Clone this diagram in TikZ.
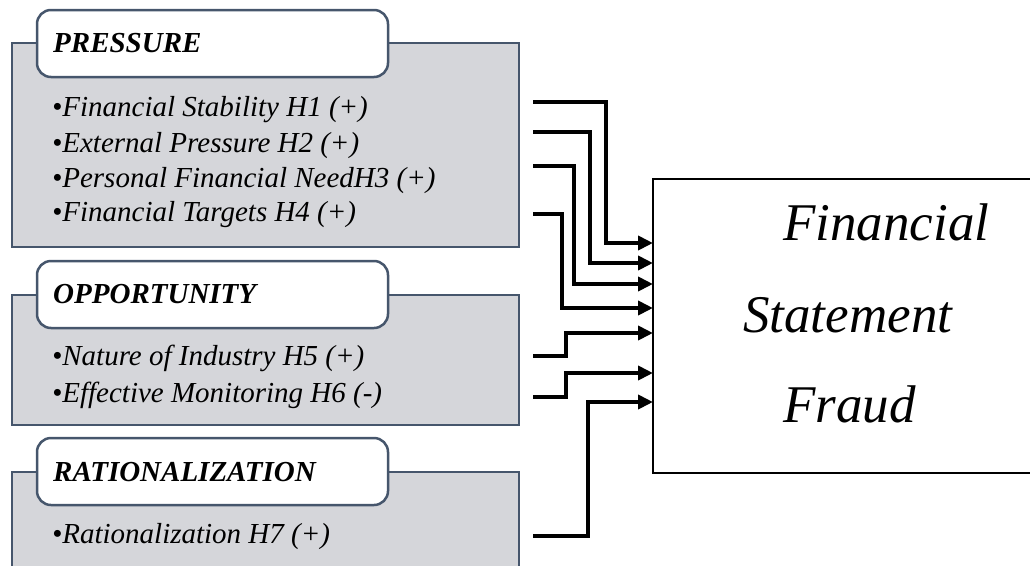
\documentclass[tikz,border=0pt]{standalone}
\usepackage{fontspec}
\setmainfont{Liberation Serif}
\usetikzlibrary{arrows.meta}
\definecolor{boxfill}{HTML}{D5D6DA}
\definecolor{boxedge}{HTML}{46566C}
\begin{document}
\begin{tikzpicture}[x=1pt,y=-1pt,
  panel/.style={draw=boxedge, fill=boxfill, line width=2.5pt, anchor=north west, inner sep=0pt, outer sep=0pt},
  tab/.style={draw=boxedge, fill=white, line width=2.5pt, rounded corners=14pt, anchor=north west, inner sep=0pt, outer sep=0pt, minimum width=351pt, minimum height=67pt},
  head/.style={anchor=base west, inner sep=0pt, font=\fontsize{29}{31}\selectfont\bfseries\itshape},
  item/.style={anchor=base west, inner sep=0pt, font=\fontsize{29}{31}\selectfont\itshape},
  big/.style={anchor=base west, inner sep=0pt, font=\fontsize{53}{56}\selectfont\itshape},
  target/.style={draw=black, line width=2.5pt, anchor=north west, inner sep=0pt, outer sep=0pt, minimum width=420pt, minimum height=294pt},
  conn/.style={line width=4pt, -{Triangle[length=15pt,width=14pt]}}]
\useasboundingbox (0,0) rectangle (1030,565);

% panels
\node[panel, minimum width=507pt, minimum height=204pt] (pp) at (12,43) {};
\node[tab] (pt) at (37,10) {};
\node[head] (ph) at (53,52) {PRESSURE};
\node[item] (p1) at (52,116) {•Financial Stability H1 (+)};
\node[item] (p2) at (52,152) {•External Pressure H2 (+)};
\node[item] (p3) at (52,187) {•Personal Financial NeedH3 (+)};
\node[item] (p4) at (52,221) {•Financial Targets H4 (+)};

\node[panel, minimum width=507pt, minimum height=130pt] (op) at (12,295) {};
\node[tab] (ot) at (37,261) {};
\node[head] (oh) at (53,303) {OPPORTUNITY};
\node[item] (o1) at (52,365) {•Nature of Industry H5 (+)};
\node[item] (o2) at (52,402) {•Effective Monitoring H6 (-)};

\node[panel, minimum width=507pt, minimum height=110pt] (rp) at (12,472) {};
\node[tab] (rt) at (37,438) {};
\node[head] (rh) at (53,481) {RATIONALIZATION};
\node[item] (r1) at (52,543) {•Rationalization H7 (+)};

% target box
\node[target] (fsf) at (653,179) {};
\node[big] (f1) at (783,240) {Financial};
\node[big] (f2) at (743,332) {Statement};
\node[big] (f3) at (783,422) {Fraud};

% connector ends
\coordinate (s1) at (533,102);
\coordinate (s2) at (533,132);
\coordinate (s3) at (533,166);
\coordinate (s4) at (533,214);
\coordinate (s5) at (533,356);
\coordinate (s6) at (533,397);
\coordinate (s7) at (533,536);

\draw[conn] (s1) -| (606,243) -- (fsf.west |- 0,243);
\draw[conn] (s2) -| (590,263) -- (fsf.west |- 0,263);
\draw[conn] (s3) -| (574,284) -- (fsf.west |- 0,284);
\draw[conn] (s4) -| (562,308) -- (fsf.west |- 0,308);
\draw[conn] (s5) -| (566,333) -- (fsf.west |- 0,333);
\draw[conn] (s6) -| (566,373) -- (fsf.west |- 0,373);
\draw[conn] (s7) -| (588,402) -- (fsf.west |- 0,402);
\end{tikzpicture}
\end{document}
